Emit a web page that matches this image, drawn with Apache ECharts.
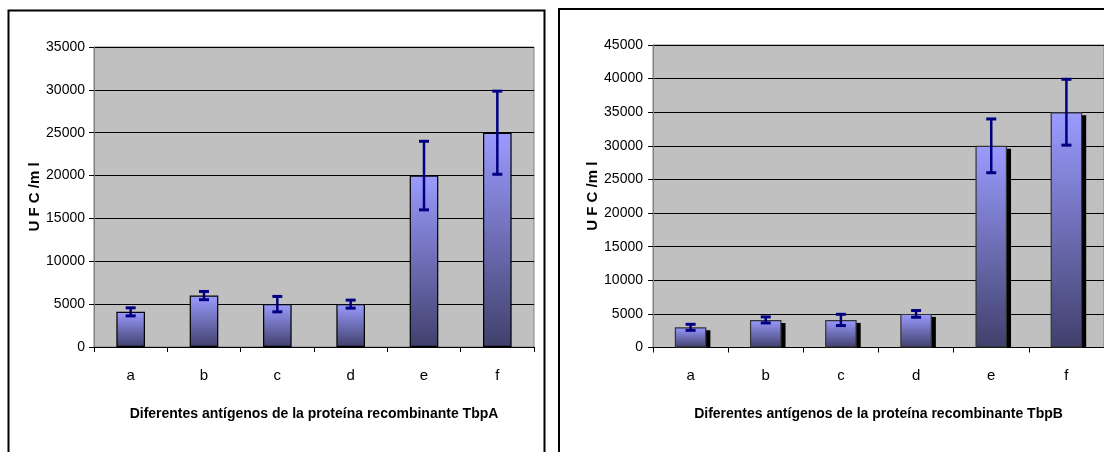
<!DOCTYPE html>
<html>
<head>
<meta charset="utf-8">
<script src="https://cdn.jsdelivr.net/npm/echarts@6/dist/echarts.min.js"></script>
<style>
html,body{margin:0;padding:0;background:#fff;}
#chart{width:1104px;height:452px;}
</style>
</head>
<body>
<div id="chart"></div>
<script>
// ---- data ----
var categories = ['a', 'b', 'c', 'd', 'e', 'f'];
var tbpAValues = [4100, 6000, 5000, 5000, 20000, 25000];
var tbpAErrors = [470, 480, 900, 470, 4000, 4850];
var tbpBValues = [3000, 4100, 4100, 5000, 30000, 35000];
var tbpBErrors = [450, 450, 840, 500, 4000, 4900];
var yMaxA = 35000;
var yMaxB = 45000;
var yStep = 5000;
var xTitleA = 'Diferentes antígenos de la proteína recombinante TbpA';
var xTitleB = 'Diferentes antígenos de la proteína recombinante TbpB';
var yTitle = 'U F C /m l';

var FONT = "'Liberation Sans',Arial,sans-serif";

var barGradient = new echarts.graphic.LinearGradient(0, 0, 0, 1, [
  {offset: 0, color: '#9B9BFF'},
  {offset: 1, color: '#40406C'}
]);

function errorItem(values, errors) {
  return function (params, api) {
    var i = api.value(0);
    var v = values[i], e = errors[i];
    var top = api.coord([i, v + e]);
    var bot = api.coord([i, v - e]);
    var x = top[0];
    var cap = 5;
    var st = {stroke: '#000080', lineWidth: 2.5};
    return {
      type: 'group',
      children: [
        {type: 'line', shape: {x1: x, y1: top[1], x2: x, y2: bot[1]}, style: st},
        {type: 'line', shape: {x1: x - cap, y1: top[1], x2: x + cap, y2: top[1]}, style: {stroke: '#000080', lineWidth: 3}},
        {type: 'line', shape: {x1: x - cap, y1: bot[1], x2: x + cap, y2: bot[1]}, style: {stroke: '#000080', lineWidth: 3}}
      ]
    };
  };
}

function shadowItem(values, widthFrac) {
  return function (params, api) {
    var i = api.value(0);
    var topPt = api.coord([i, values[i]]);
    var basePt = api.coord([i, 0]);
    var w = api.size([1, 0])[0] * widthFrac;
    return {
      type: 'rect',
      shape: {x: topPt[0] - w / 2 + 4, y: topPt[1] + 3, width: w, height: basePt[1] - topPt[1] - 3},
      style: {fill: '#000'}
    };
  };
}

function xAxisDef(gridIndex, title) {
  return {
    type: 'category', gridIndex: gridIndex, data: categories,
    axisLine: {lineStyle: {color: '#000', width: 1}},
    axisTick: {show: true, alignWithLabel: false, length: 5, lineStyle: {color: '#000'}},
    axisLabel: {color: '#000', fontSize: 15, fontFamily: FONT, margin: 21},
    name: title, nameLocation: 'middle', nameGap: 60,
    nameTextStyle: {color: '#000', fontSize: 14, fontWeight: 'bold', fontFamily: FONT}
  };
}
function yAxisDef(gridIndex, max, gap, lmargin) {
  return {
    type: 'value', gridIndex: gridIndex, min: 0, max: max, interval: yStep,
    axisLine: {show: true, lineStyle: {color: '#808080', width: 1}},
    axisTick: {show: true, length: 5, lineStyle: {color: '#000'}},
    axisLabel: {color: '#000', fontSize: 14, fontFamily: FONT, margin: lmargin,
      formatter: function (v) { return String(v); }},
    splitLine: {show: true, lineStyle: {color: '#000', width: 1}},
    name: yTitle, nameLocation: 'middle', nameGap: gap, nameRotate: 90,
    nameTextStyle: {color: '#000', fontSize: 15, fontWeight: 'bold', fontFamily: FONT}
  };
}

var idx = categories.map(function (c, i) { return [i]; });

var chart = echarts.init(document.getElementById('chart'), null, {renderer: 'canvas'});
chart.setOption({
  animation: false,
  backgroundColor: '#fff',
  graphic: [
    {type: 'rect', z: -10, shape: {x: 8.5, y: 10.5, width: 536, height: 470}, style: {fill: 'none', stroke: '#000', lineWidth: 2}},
    {type: 'rect', z: -10, shape: {x: 559, y: 9, width: 560, height: 470}, style: {fill: 'none', stroke: '#000', lineWidth: 2}}
  ],
  grid: [
    {left: 94, top: 47, width: 440, height: 300, show: true, backgroundColor: '#C0C0C0', borderColor: '#808080', borderWidth: 1},
    {left: 653, top: 45, width: 453.6, height: 302.5, show: true, backgroundColor: '#C0C0C0', borderColor: '#808080', borderWidth: 1}
  ],
  xAxis: [xAxisDef(0, xTitleA), xAxisDef(1, xTitleB)],
  yAxis: [yAxisDef(0, yMaxA, 41, 9), yAxisDef(1, yMaxB, 50, 10)],
  series: [
    {
      type: 'bar', xAxisIndex: 0, yAxisIndex: 0, data: tbpAValues, barWidth: '39%',
      itemStyle: {color: barGradient, borderColor: '#000', borderWidth: 1.2}, z: 3
    },
    {
      type: 'custom', xAxisIndex: 0, yAxisIndex: 0, data: idx,
      renderItem: errorItem(tbpAValues, tbpAErrors), z: 5
    },
    {
      type: 'custom', xAxisIndex: 1, yAxisIndex: 1, data: idx,
      renderItem: shadowItem(tbpBValues, 0.42), z: 2
    },
    {
      type: 'bar', xAxisIndex: 1, yAxisIndex: 1, data: tbpBValues, barWidth: '42%',
      itemStyle: {color: barGradient, borderColor: '#333', borderWidth: 1.2}, z: 3
    },
    {
      type: 'custom', xAxisIndex: 1, yAxisIndex: 1, data: idx,
      renderItem: errorItem(tbpBValues, tbpBErrors), z: 5
    }
  ]
});
</script>
</body>
</html>
